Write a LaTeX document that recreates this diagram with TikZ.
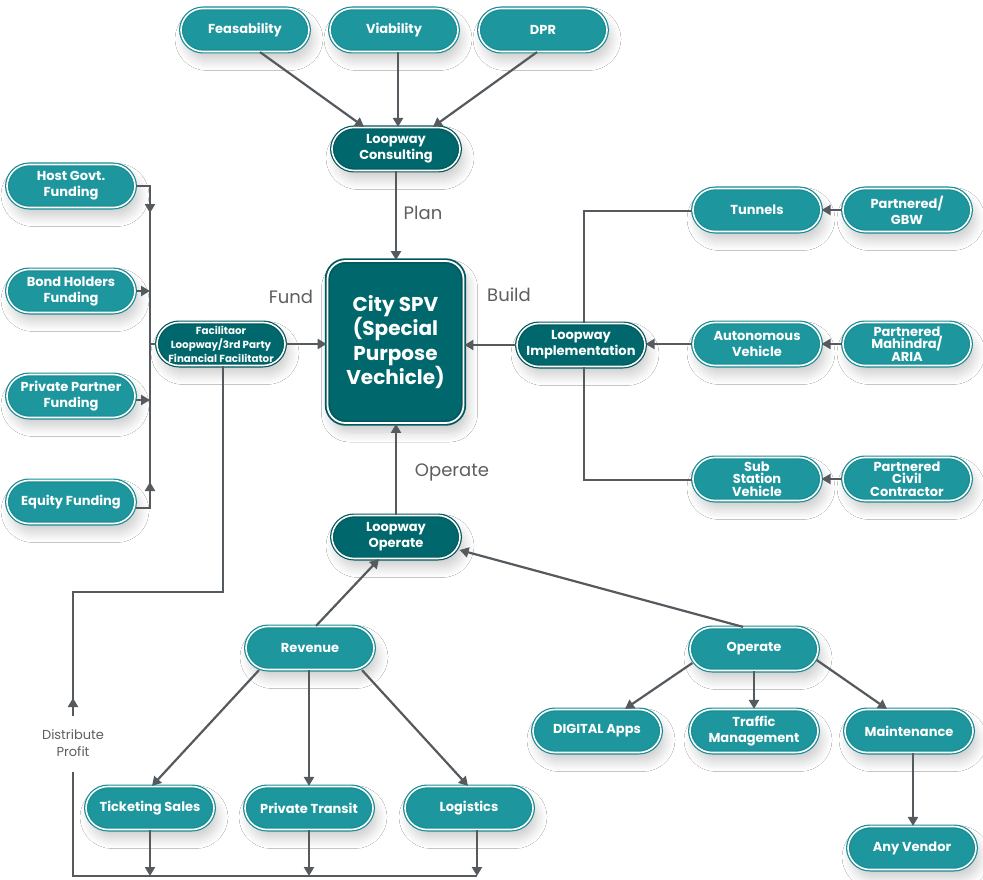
\documentclass[tikz,border=0pt]{standalone}
\usepackage{fontspec}
\setmainfont{Poppins}
\usetikzlibrary{arrows.meta,shadows.blur,calc}
\definecolor{tealA}{HTML}{1E969E}
\definecolor{tealD}{HTML}{00686C}
\definecolor{tealE}{HTML}{178C93}
\definecolor{connC}{HTML}{555A5E}
\definecolor{lblC}{HTML}{5E5E5E}
\tikzset{
  pill/.style={rectangle, rounded corners=22pt, minimum width=128pt, minimum height=43pt,
    fill=tealA, draw=tealE, double=white, double distance=1.6pt, line width=1.2pt,
    text=white, font=\bfseries\fontsize{13}{16}\selectfont, align=center, inner sep=1pt,
    blur shadow={shadow blur steps=10, shadow blur radius=10pt, shadow xshift=4pt, shadow yshift=-9pt, shadow opacity=20}},
  tight/.style={font=\bfseries\fontsize{13}{12.5}\selectfont},
  darkpill/.style={pill, fill=tealD, draw=tealD!85!black},
  spvbox/.style={rectangle, rounded corners=18pt, minimum width=136pt, minimum height=162pt,
    fill=tealD, draw=tealD!85!black, double=white, double distance=1.8pt, line width=1.8pt,
    text=white, font=\bfseries\fontsize{20}{24.5}\selectfont, align=center,
    blur shadow={shadow blur steps=10, shadow blur radius=10pt, shadow xshift=4pt, shadow yshift=-9pt, shadow opacity=22}},
  arr/.style={draw=connC, line width=2.2pt, -{Triangle[length=9pt,width=10pt]}},
  ln/.style={draw=connC, line width=2.2pt},
  lab/.style={text=lblC, font=\fontsize{18}{20}\selectfont},
}
\begin{document}
\begin{tikzpicture}[x=1pt,y=-1pt]
\useasboundingbox[fill=white] (0,0) rectangle (983,880);
% top
\node[pill] (feas) at (245,30) {Feasability};
\node[pill] (via) at (394,30) {Viability};
\node[pill] (dpr) at (543,30) {DPR};
\node[darkpill] (cons) at (396,149) {Loopway\\Consulting};
\node[spvbox] (spv) at (395.5,342) {City SPV\\(Special\\Purpose\\Vechicle)};
% left
\node[pill] (host) at (71,186) {Host Govt.\\Funding};
\node[pill] (bond) at (71,291) {Bond Holders\\Funding};
\node[pill] (priv) at (71,396) {Private Partner\\Funding};
\node[pill] (eq) at (71,502) {Equity Funding};
\node[darkpill, font=\bfseries\fontsize{10.3}{14}\selectfont] (fac) at (221,344) {Facilitaor\\Loopway/3rd Party\\Financial Facilitator};
% right
\node[darkpill] (impl) at (581,345) {Loopway\\Implementation};
\node[pill] (tun) at (757,210) {Tunnels};
\node[pill] (gbw) at (907,210) {Partnered/\\GBW};
\node[pill] (auto) at (757,344) {Autonomous\\Vehicle};
\node[pill, tight] (mah) at (907,344) {Partnered\\Mahindra/\\ARIA};
\node[pill, tight] (sub) at (757,479) {Sub\\Station\\Vehicle};
\node[pill, tight] (civ) at (907,479) {Partnered\\Civil\\Contractor};
% bottom
\node[darkpill] (lop) at (396,537) {Loopway\\Operate};
\node[pill] (rev) at (310,648) {Revenue};
\node[pill] (tick) at (150,808) {Ticketing Sales};
\node[pill] (ptr) at (309,808) {Private Transit};
\node[pill] (logi) at (469,808) {Logistics};
\node[pill] (op) at (754,649) {Operate};
\node[pill] (dig) at (597,731) {DIGITAL Apps};
\node[pill] (traf) at (754,731) {Traffic\\Management};
\node[pill] (maint) at (909,731) {Maintenance};
\node[pill] (vend) at (912,848) {Any Vendor};
% labels
\node[lab] (plan) at (423,213) {Plan};
\node[lab] (fund) at (291,297) {Fund};
\node[lab] (build) at (509,295) {Build};
\node[lab] (oper) at (452,472) {Operate};
\node[text=lblC, font=\fontsize{13}{16.5}\selectfont, align=center] (dist) at (73,743) {Distribute\\Profit};
% top connectors
\draw[arr] ($(feas.south)+(15,0)$) -- ($(cons.north)+(-32,0)$);
\draw[arr] ($(via.south)+(4,0)$) -- ($(cons.north)+(2,0)$);
\draw[arr] ($(dpr.south)+(-6,0)$) -- ($(cons.north)+(37,0)$);
\draw[arr] (cons.south) -- (cons.south |- spv.north);
% left connectors
\coordinate (bt) at (150,186);
\coordinate (bb) at (150,508);
\draw[ln] (host.east) -- (bt) -- (bb) -- ($(eq.east)+(0,6)$);
\draw[arr] (bt) -- (150,213);
\draw[arr] (bb) -- (150,482);
\draw[arr] (bond.east) -- (bond.east -| bt);
\draw[arr] ($(priv.east)+(0,4)$) -- ($(priv.east -| bt)+(0,4)$);
\draw[ln] (fac.west -| bt) -- (fac.west);
\draw[arr] (fac.east) -- (fac.east -| spv.west);
% distribute profit loop
\coordinate (d1) at (223,592);
\coordinate (d2) at (73,592);
\coordinate (d3) at (73,716);
\coordinate (d4) at (73,772);
\coordinate (d5) at (73,876);
\coordinate (d6) at (477,876);
\draw[ln] (fac.south -| d1) -- (d1) -- (d2) -- (d3);
\draw[arr] (d3) -- (73,698);
\draw[ln] (d4) -- (d5) -- (d6);
\draw[arr] (tick.south) -- (tick.south |- d5);
\draw[arr] (ptr.south) -- (ptr.south |- d5);
\draw[arr] (logi.south -| d6) -- (d6);
% right connectors
\coordinate (r1) at (584,211);
\coordinate (r2) at (584,480);
\draw[ln] (impl.north -| r1) -- (r1) -- (tun.west |- r1);
\draw[ln] (impl.south -| r2) -- (r2) -- (sub.west |- r2);
\draw[arr] (auto.west) -- (impl.east |- auto.west);
\draw[arr] (impl.west) -- (impl.west -| spv.east);
\draw[arr] (gbw.west) -- (tun.east);
\draw[arr] (mah.west) -- (auto.east);
\draw[arr] (civ.west) -- (sub.east);
% operate connectors
\draw[arr] (lop.north) -- (lop.north |- spv.south);
\draw[arr] ($(rev.north)+(6,0)$) -- ($(lop.south)+(-17,0)$);
\draw[arr] ($(rev.south)+(-51,0)$) -- ($(tick.north)+(2,0)$);
\draw[arr] ($(rev.south)+(-1,0)$) -- ($(ptr.north)$);
\draw[arr] ($(rev.south)+(52,0)$) -- ($(logi.north)+(-1,0)$);
\draw[arr] ($(op.north)+(-11,0)$) -- ($(lop.east)+(-1,13)$);
\draw[arr] ($(op.west)+(3,14)$) -- ($(dig.north)+(28,0)$);
\draw[arr] (op.south) -- (traf.north);
\draw[arr] ($(op.east)+(-2,11)$) -- ($(maint.north)+(-22,0)$);
\draw[arr] ($(maint.south)+(4,0)$) -- ($(vend.north)+(1,0)$);
\end{tikzpicture}
\end{document}
